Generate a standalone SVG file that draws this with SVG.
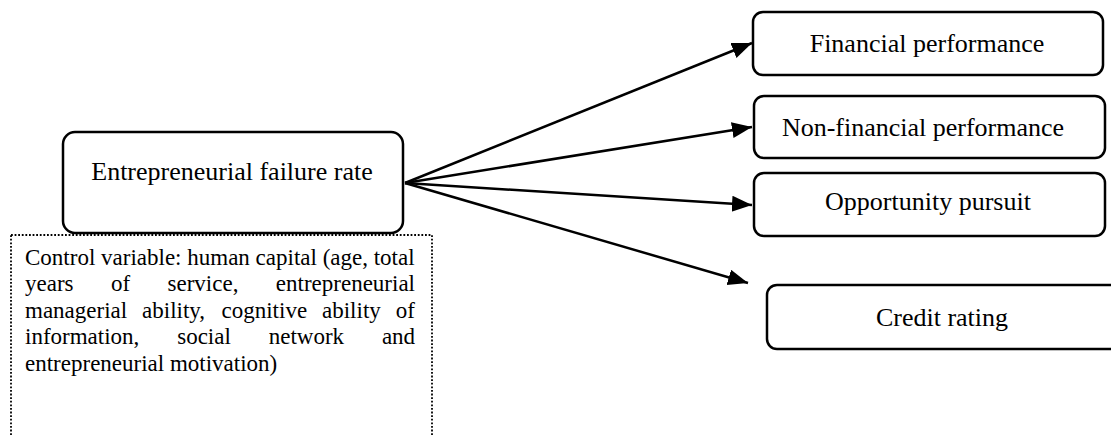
<svg xmlns="http://www.w3.org/2000/svg" width="1111" height="436" viewBox="0 0 1111 436">
<defs>
<style>
.box{fill:#fff;stroke:#000;stroke-width:2.5}
.lbl{font-family:"Liberation Serif","Times New Roman",serif;font-size:26px;fill:#000;text-anchor:middle}
.ctl{font-family:"Liberation Serif","Times New Roman",serif;font-size:23px;fill:#000}
.conn{stroke:#000;stroke-width:2.5;fill:none;marker-end:url(#ah)}
.dot{fill:#fff;stroke:#000;stroke-width:1.8;stroke-dasharray:1.8 1.8}
</style>
<marker id="ah" markerUnits="userSpaceOnUse" markerWidth="22" markerHeight="18" refX="20" refY="8" orient="auto">
<path d="M0,0 L20,8 L0,16 z" fill="#000"/>
</marker>
</defs>
<rect width="1111" height="436" fill="#fff"/>
<g id="connectors">
<line class="conn" x1="405" y1="183" x2="752" y2="43"/>
<line class="conn" x1="405" y1="183" x2="752" y2="127"/>
<line class="conn" x1="405" y1="183" x2="752" y2="205"/>
<line class="conn" x1="405" y1="183" x2="748" y2="283"/>
</g>
<g id="main">
<rect class="box" x="63" y="132" width="340" height="101" rx="12"/>
<text class="lbl" x="232" y="180">Entrepreneurial failure rate</text>
</g>
<g id="control">
<rect class="dot" x="11" y="235" width="421" height="210"/>
<text class="ctl" y="264.5"><tspan x="25">Control variable: human capital (age, total</tspan></text>
<text class="ctl" y="291"><tspan x="25">years</tspan><tspan x="110.9">of</tspan><tspan x="167.5">service,</tspan><tspan x="275.8">entrepreneurial</tspan></text>
<text class="ctl" y="317.5"><tspan x="25">managerial</tspan><tspan x="142.1">ability,</tspan><tspan x="221.5">cognitive</tspan><tspan x="322">ability</tspan><tspan x="395.7">of</tspan></text>
<text class="ctl" y="344"><tspan x="25">information,</tspan><tspan x="177.2">social</tspan><tspan x="268.7">network</tspan><tspan x="381.9">and</tspan></text>
<text class="ctl" y="370.5"><tspan x="25">entrepreneurial motivation)</tspan></text>
</g>
<g id="financial">
<rect class="box" x="753" y="12" width="350" height="63" rx="10"/>
<text class="lbl" x="927" y="52">Financial performance</text>
</g>
<g id="nonfinancial">
<rect class="box" x="754" y="96" width="351" height="62" rx="10"/>
<text class="lbl" x="923" y="136">Non-financial performance</text>
</g>
<g id="opportunity">
<rect class="box" x="754" y="173" width="351" height="63" rx="10"/>
<text class="lbl" x="928" y="210">Opportunity pursuit</text>
</g>
<g id="credit">
<rect class="box" x="767" y="285" width="360" height="64" rx="10"/>
<text class="lbl" x="942" y="326">Credit rating</text>
</g>
</svg>
